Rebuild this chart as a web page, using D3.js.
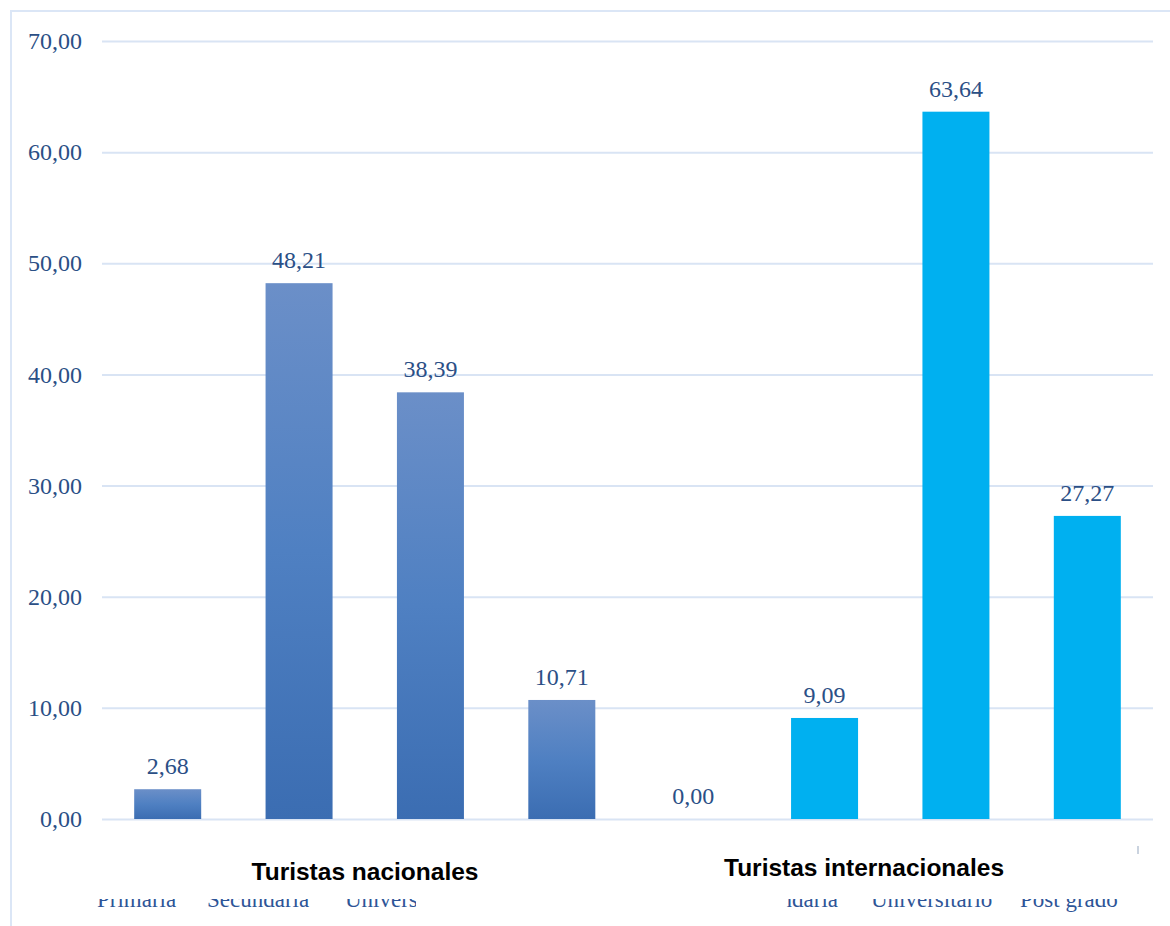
<!DOCTYPE html>
<html>
<head>
<meta charset="utf-8">
<script src="https://cdn.jsdelivr.net/npm/d3@7"></script>
<style>
  html, body { margin: 0; padding: 0; background: #ffffff; }
  svg { display: block; }
</style>
</head>
<body>
<svg id="chart" width="1170" height="926"></svg>
<script>
// ---- data ----
const groups = ["Turistas nacionales", "Turistas internacionales"];
const levels = ["Primaria", "Secundaria", "Universitario", "Post grado"];
const nacionales = [2.68, 48.21, 38.39, 10.71];
const internacionales = [0.00, 9.09, 63.64, 27.27];
const yTicks = [0, 10, 20, 30, 40, 50, 60, 70];

// ---- build rows ----
const rows = [];
levels.forEach((l, i) => rows.push({ key: "n" + i, group: 0, level: l, value: nacionales[i] }));
levels.forEach((l, i) => rows.push({ key: "i" + i, group: 1, level: l, value: internacionales[i] }));

const svg = d3.select("#chart");
const fmt = v => v.toFixed(2).replace(".", ",");
const textColor = "#2b4f86";
const gridColor = "#d9e4f4";

// frame border
svg.append("rect")
  .attr("x", 11).attr("y", 11)
  .attr("width", 1200).attr("height", 1000)
  .attr("fill", "none")
  .attr("stroke", "#dbe6f6").attr("stroke-width", 2);

const x = d3.scaleBand()
  .domain(rows.map(d => d.key))
  .range([102, 1153])
  .paddingInner(0.49)
  .paddingOuter(0.245);

const y = d3.scaleLinear().domain([0, 70]).range([819, 41]);

// gradient for national bars
const defs = svg.append("defs");
const grad = defs.append("linearGradient")
  .attr("id", "natGrad")
  .attr("x1", 0).attr("y1", 0).attr("x2", 0).attr("y2", 1);
grad.append("stop").attr("offset", "0%").attr("stop-color", "#6b8fc8");
grad.append("stop").attr("offset", "50%").attr("stop-color", "#4f80c2");
grad.append("stop").attr("offset", "100%").attr("stop-color", "#3b6db2");

// gridlines + y axis labels
const yAxis = d3.axisLeft(y).tickValues(yTicks).tickSize(-(1153 - 102)).tickFormat(fmt).tickPadding(20);
const gAxis = svg.append("g").attr("transform", "translate(102,0)").call(yAxis);
gAxis.select(".domain").remove();
gAxis.selectAll(".tick line").attr("stroke", gridColor).attr("stroke-width", 2);
gAxis.selectAll(".tick text")
  .attr("fill", textColor)
  .attr("font-family", "'Liberation Serif', 'Times New Roman', serif")
  .attr("font-size", 24)
  .attr("x", -20);

// bars
svg.append("g").selectAll("rect")
  .data(rows)
  .join("rect")
  .attr("x", d => x(d.key))
  .attr("y", d => y(d.value))
  .attr("width", x.bandwidth())
  .attr("height", d => y(0) - y(d.value))
  .attr("fill", d => d.group === 0 ? "url(#natGrad)" : "#00b0f0");

// value labels
svg.append("g").selectAll("text")
  .data(rows)
  .join("text")
  .attr("x", d => x(d.key) + x.bandwidth() / 2)
  .attr("y", d => y(d.value) - 15)
  .attr("text-anchor", "middle")
  .attr("fill", textColor)
  .attr("font-family", "'Liberation Serif', 'Times New Roman', serif")
  .attr("font-size", 24)
  .text(d => fmt(d.value));

// partially hidden category strip at the bottom
const clip = defs.append("clipPath").attr("id", "stripClip");
clip.append("rect").attr("x", 90).attr("y", 899).attr("width", 326).attr("height", 30);
clip.append("rect").attr("x", 786).attr("y", 899).attr("width", 340).attr("height", 30);

const strip = svg.append("g").attr("clip-path", "url(#stripClip)")
  .attr("fill", "#2e5597")
  .attr("font-family", "'Liberation Serif', 'Times New Roman', serif")
  .attr("font-size", 23);
const stripItems = [
  { t: levels[0], x: 97, a: "start" },
  { t: levels[1], x: 207, a: "start" },
  { t: levels[2], x: 345, a: "start" },
  { t: levels[1], x: 838, a: "end" },
  { t: levels[2], x: 871, a: "start" },
  { t: levels[3], x: 1020, a: "start" }
];
strip.selectAll("text").data(stripItems).join("text")
  .attr("x", d => d.x).attr("y", 907)
  .attr("text-anchor", d => d.a)
  .text(d => d.t);

// group titles
const titlePos = [{ x: 365, y: 880 }, { x: 864, y: 876 }];
svg.append("g").selectAll("text")
  .data(groups)
  .join("text")
  .attr("x", (d, i) => titlePos[i].x)
  .attr("y", (d, i) => titlePos[i].y)
  .attr("text-anchor", "middle")
  .attr("fill", "#000000")
  .attr("font-family", "'Liberation Sans', Arial, sans-serif")
  .attr("font-weight", "bold")
  .attr("font-size", 24.5)
  .text(d => d);

// tiny mark at right
svg.append("line")
  .attr("x1", 1138).attr("x2", 1138).attr("y1", 846).attr("y2", 854)
  .attr("stroke", "#b8c4d4").attr("stroke-width", 1.5);
</script>
</body>
</html>
